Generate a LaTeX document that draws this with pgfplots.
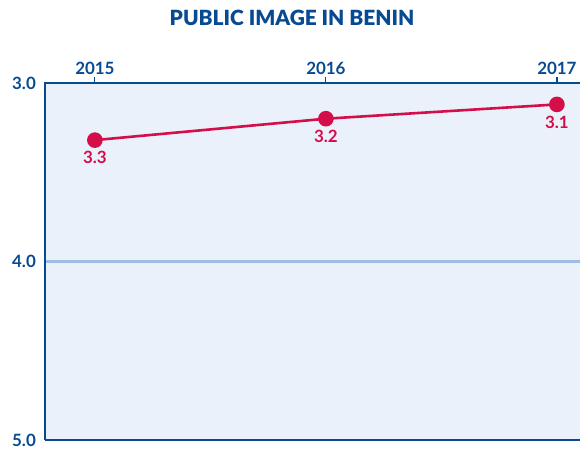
\documentclass[border=0pt]{standalone}
\usepackage{fontspec}
\setmainfont{Lato}
\newfontfamily\titlefont{Lato Black}
\usepackage{pgfplots}
\pgfplotsset{compat=1.18}
\definecolor{dblue}{RGB}{8,74,145}
\definecolor{bgblue}{RGB}{234,241,250}
\definecolor{gridblue}{RGB}{160,190,228}
\definecolor{crim}{RGB}{212,14,72}
\begin{document}
\begin{tikzpicture}
\begin{axis}[
  scale only axis, width=535bp, height=357bp,
  xmin=2014.784, xmax=2017.1, ymin=3, ymax=5, y dir=reverse,
  axis background/.style={fill=bgblue},
  axis line style={draw=none},
  xtick={2015,2016,2017}, xticklabels={2015,2016,2017},
  xtick pos=right, xticklabel pos=right,
  tick align=outside,
  major tick length=6bp,
  xtick style={dblue, line width=1.2bp},
  ytick={3,4,5}, yticklabels={3.0,4.0,5.0},
  ytick style={draw=none},
  xticklabel style={font=\bfseries\fontsize{17}{17}\selectfont, text=dblue, inner sep=2bp},
  yticklabel style={font=\bfseries\fontsize{17}{17}\selectfont, text=dblue, inner sep=3bp},
  clip=false,
]
\draw[gridblue, line width=2.2bp] (axis cs:2014.784,4) -- (axis cs:2017.1,4);
\addplot[crim, line width=2.6bp, mark=*, mark size=6.5bp, mark options={solid},
  nodes near coords, point meta=explicit symbolic,
  every node near coord/.append style={anchor=north, yshift=-10bp, inner sep=0pt,
    font=\bfseries\fontsize{17}{17}\selectfont, text=crim}]
  coordinates {(2015,3.32)[3.3] (2016,3.20)[3.2] (2017,3.12)[3.1]};
\end{axis}
\draw[dblue, line width=1.4bp] (current axis.south west) -- (current axis.north west) -- (current axis.north east);
\draw[dblue, line width=1.4bp] (current axis.south west) -- (current axis.south east);
\path (current axis.north west) ++(247bp,65bp) node[font=\titlefont\fontsize{21}{21}\selectfont, text=dblue] {PUBLIC IMAGE IN BENIN};
\pgfresetboundingbox
\useasboundingbox (current axis.south west) ++(-45bp,-9bp) rectangle ++(580bp,449bp);
\end{tikzpicture}
\end{document}
